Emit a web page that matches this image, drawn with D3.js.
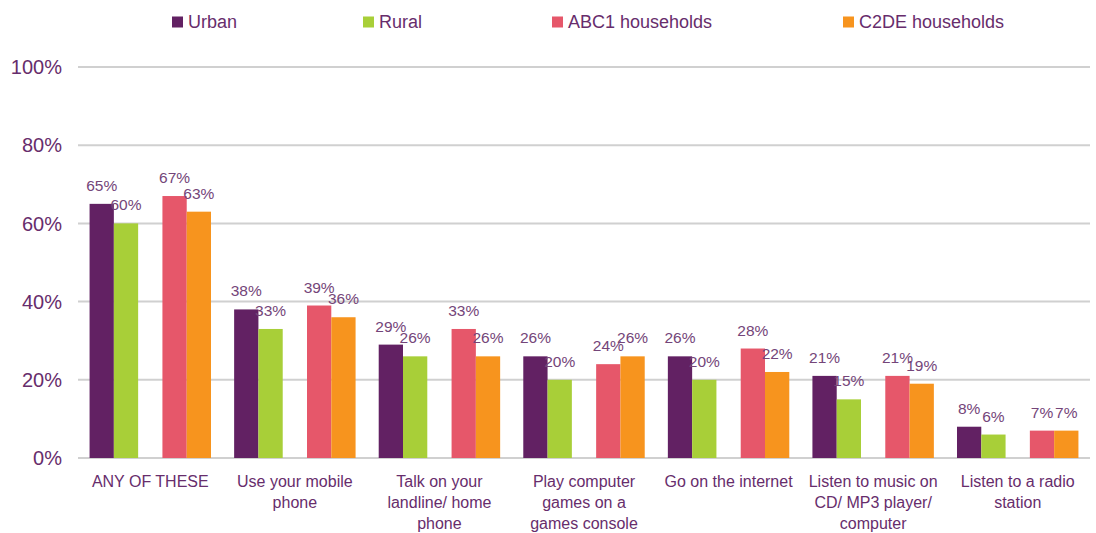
<!DOCTYPE html>
<html>
<head>
<meta charset="utf-8">
<script src="https://cdn.jsdelivr.net/npm/d3@7"></script>
<style>
  body { margin: 0; background: #fff; }
  svg { font-family: "Liberation Sans", Arial, sans-serif; }
</style>
</head>
<body>
<div id="chart"></div>
<script>
const categories = [
  ["ANY OF THESE"],
  ["Use your mobile", "phone"],
  ["Talk on your", "landline/ home", "phone"],
  ["Play computer", "games on a", "games console"],
  ["Go on the internet"],
  ["Listen to music on", "CD/ MP3 player/", "computer"],
  ["Listen to a radio", "station"]
];
const series = ["Urban", "Rural", "ABC1 households", "C2DE households"];
const colors = ["#622163", "#a8cf38", "#e6576a", "#f7941e"];
const urban = [65, 38, 29, 26, 26, 21, 8];
const rural = [60, 33, 26, 20, 20, 15, 6];
const abc1  = [67, 39, 33, 24, 28, 21, 7];
const c2de  = [63, 36, 26, 26, 22, 19, 7];
const values = [urban, rural, abc1, c2de];
const yTicks = [0, 20, 40, 60, 80, 100];

const W = 1096, H = 533;
const margin = { left: 78, right: 6, top: 67, bottom: 75 };
const textColor = "#672d6c";

const svg = d3.select("#chart").append("svg").attr("width", W).attr("height", H);

const x0 = d3.scaleBand()
  .domain(d3.range(categories.length))
  .range([margin.left, W - margin.right])
  .paddingInner(0.16).paddingOuter(0.08);

// two pairs with an empty slot between them
const slots = ["Urban", "Rural", "", "ABC1 households", "C2DE households"];
const x1 = d3.scaleBand().domain(slots).range([0, x0.bandwidth()]);

const y = d3.scaleLinear().domain([0, 100]).range([H - margin.bottom, margin.top]);

// gridlines
svg.append("g").selectAll("line").data(yTicks).join("line")
  .attr("x1", margin.left).attr("x2", W - margin.right)
  .attr("y1", d => y(d)).attr("y2", d => y(d))
  .attr("stroke", "#d0d0d0").attr("stroke-width", 2);

// y labels
svg.append("g").selectAll("text").data(yTicks).join("text")
  .attr("x", 62).attr("y", d => y(d)).attr("dy", "0.36em")
  .attr("text-anchor", "end").attr("font-size", 20).attr("fill", textColor)
  .text(d => d + "%");

// bars
const groups = svg.append("g").selectAll("g").data(series).join("g")
  .attr("fill", (d, i) => colors[i]);

groups.selectAll("rect").data((s, i) => values[i].map((v, j) => ({ s, v, j })))
  .join("rect")
  .attr("x", d => x0(d.j) + x1(d.s))
  .attr("width", x1.bandwidth())
  .attr("y", d => y(d.v))
  .attr("height", d => y(0) - y(d.v));

// value labels
svg.append("g").selectAll("g").data(series).join("g")
  .selectAll("text").data((s, i) => values[i].map((v, j) => ({ s, v, j })))
  .join("text")
  .attr("x", d => x0(d.j) + x1(d.s) + x1.bandwidth() / 2)
  .attr("y", d => y(d.v) - 13)
  .attr("text-anchor", "middle").attr("font-size", 15.5).attr("fill", "#744579")
  .text(d => d.v + "%");

// category labels
const cat = svg.append("g").selectAll("text").data(categories).join("text")
  .attr("text-anchor", "middle").attr("font-size", 16).attr("fill", textColor)
  .attr("transform", (d, i) => `translate(${x0(i) + x0.bandwidth() / 2},487)`);
cat.selectAll("tspan").data(d => d).join("tspan")
  .attr("x", 0).attr("y", (d, i) => i * 21).text(d => d);

// legend
const legendX = [172, 363, 552, 843];
const leg = svg.append("g").selectAll("g").data(series).join("g")
  .attr("transform", (d, i) => `translate(${legendX[i]},22)`);
leg.append("rect").attr("x", 0).attr("y", -5.5).attr("width", 11).attr("height", 11)
  .attr("fill", (d, i) => colors[i]);
leg.append("text").attr("x", 16).attr("dy", "0.36em").attr("font-size", 18)
  .attr("fill", textColor).text(d => d);
</script>
</body>
</html>
